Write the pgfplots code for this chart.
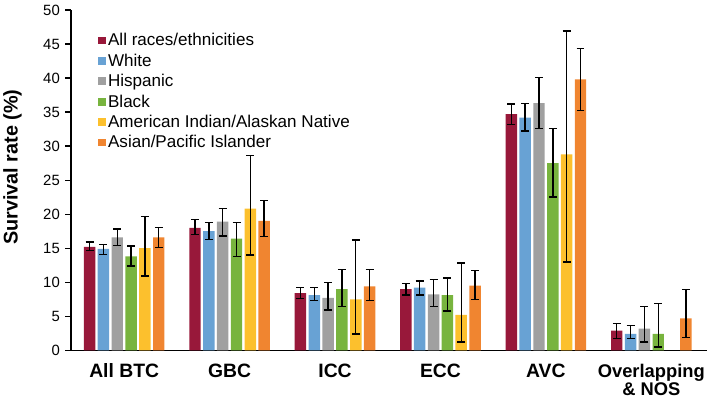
\documentclass[border=0pt]{standalone}
\usepackage{pgfplots}
\pgfplotsset{compat=1.18}
\usepackage{fontspec}
\setmainfont{Liberation Sans}
\definecolor{cAll}{RGB}{152,24,58}
\definecolor{cWhite}{RGB}{104,162,212}
\definecolor{cHisp}{RGB}{160,160,160}
\definecolor{cBlack}{RGB}{120,180,62}
\definecolor{cAIAN}{RGB}{252,192,45}
\definecolor{cAsian}{RGB}{240,133,48}
\begin{document}
\begin{tikzpicture}
\begin{axis}[
  width=639bp, height=342bp, scale only axis,
  xmin=-0.502, xmax=5.53, ymin=0, ymax=50,
  ybar=2.4bp, bar width=11.5bp,
  axis x line=bottom, axis y line=left,
  axis line style={-, line width=1.6bp, black},
  ytick={0,5,...,50},
  tick style={draw=black, line width=1.2bp},
  tick align=outside, major tick length=6bp,
  xtick=\empty,
  yticklabel style={font=\fontsize{15}{17}\selectfont, xshift=-2bp},
  /pgf/number format/assume math mode=true,
  ylabel={Survival rate (\%)},
  ylabel style={font=\bfseries\fontsize{20}{22}\selectfont, at={(rel axis cs:-0.0923,0.538)}, anchor=center},
  legend style={at={(rel axis cs:0.042,0.937)}, anchor=north west, draw=none, fill=none,
    font=\fontsize{17.2}{18}\selectfont, row sep=2.6bp, inner sep=0pt},
  legend cell align=left,
  legend image code/.code={\path[#1,draw=none] (0bp,-4bp) rectangle (8bp,4bp);},
  error bars/y dir=both, error bars/y explicit,
  error bars/error bar style={line width=1.4bp, draw=black},
  error bars/error mark options={rotate=90, draw=black, line width=1.4bp, mark size=4bp},
  clip=false,
]
\addplot[fill=cAll, draw=none] coordinates {
 (0,15.2) += (0,0.7) -= (0,0.5)
 (1,18.0) += (0,1.2) -= (0,1.0)
 (2,8.4) += (0,0.8) -= (0,0.8)
 (3,9.0) += (0,0.8) -= (0,0.9)
 (4,34.7) += (0,1.5) -= (0,1.5)
 (5,2.9) += (0,1.0) -= (0,1.15)
};
\addplot[fill=cWhite, draw=none] coordinates {
 (0,14.9) += (0,0.6) -= (0,0.8)
 (1,17.5) += (0,1.3) -= (0,1.2)
 (2,8.1) += (0,1.1) -= (0,0.8)
 (3,9.2) += (0,1.0) -= (0,1.1)
 (4,34.2) += (0,2.1) -= (0,2.0)
 (5,2.4) += (0,1.25) -= (0,0.7)
};
\addplot[fill=cHisp, draw=none] coordinates {
 (0,16.6) += (0,1.2) -= (0,1.2)
 (1,18.9) += (0,1.9) -= (0,2.1)
 (2,7.7) += (0,2.3) -= (0,1.8)
 (3,8.2) += (0,2.2) -= (0,1.8)
 (4,36.3) += (0,3.8) -= (0,3.7)
 (5,3.2) += (0,3.2) -= (0,2.0)
};
\addplot[fill=cBlack, draw=none] coordinates {
 (0,13.8) += (0,1.5) -= (0,1.4)
 (1,16.4) += (0,2.4) -= (0,2.6)
 (2,9.0) += (0,2.9) -= (0,2.6)
 (3,8.1) += (0,2.5) -= (0,2.3)
 (4,27.5) += (0,5.1) -= (0,5.0)
 (5,2.4) += (0,4.5) -= (0,1.9)
};
\addplot[fill=cAIAN, draw=none] coordinates {
 (0,15.0) += (0,4.7) -= (0,4.1)
 (1,20.8) += (0,7.8) -= (0,6.8)
 (2,7.5) += (0,8.7) -= (0,5.1)
 (3,5.2) += (0,7.6) -= (0,4.0)
 (4,28.8) += (0,18.1) -= (0,15.8)
};
\addplot[fill=cAsian, draw=none] coordinates {
 (0,16.6) += (0,1.4) -= (0,1.5)
 (1,19.0) += (0,3.0) -= (0,2.3)
 (2,9.4) += (0,2.5) -= (0,2.1)
 (3,9.5) += (0,2.2) -= (0,2.0)
 (4,39.8) += (0,4.5) -= (0,4.6)
 (5,4.7) += (0,4.2) -= (0,2.8)
};
\legend{All races/ethnicities, White, Hispanic, Black, American Indian/Alaskan Native, Asian/Pacific Islander}
\begin{scope}[every node/.style={font=\bfseries\fontsize{19.5}{21}\selectfont, anchor=base, inner sep=0pt}]
\node at (axis cs:0,-4.0) {All BTC};
\node at (axis cs:1,-4.0) {GBC};
\node at (axis cs:2,-4.0) {ICC};
\node at (axis cs:3,-4.0) {ECC};
\node at (axis cs:4,-4.0) {AVC};
\node[font=\bfseries\fontsize{18.5}{20}\selectfont] at (axis cs:5,-4.05) {Overlapping};
\node[font=\bfseries\fontsize{18.5}{20}\selectfont] at (axis cs:5,-6.7) {\& NOS};
\end{scope}
\end{axis}
\foreach \i in {0,...,10}{
  \draw[line width=1.2bp, black] ([yshift=\i*34.2bp]current axis.south west) -- ([yshift=\i*34.2bp, xshift=-6bp]current axis.south west);
}
\path ([xshift=-69bp,yshift=-52bp]current axis.south west) rectangle ([yshift=10bp]current axis.north east);
\end{tikzpicture}
\end{document}
